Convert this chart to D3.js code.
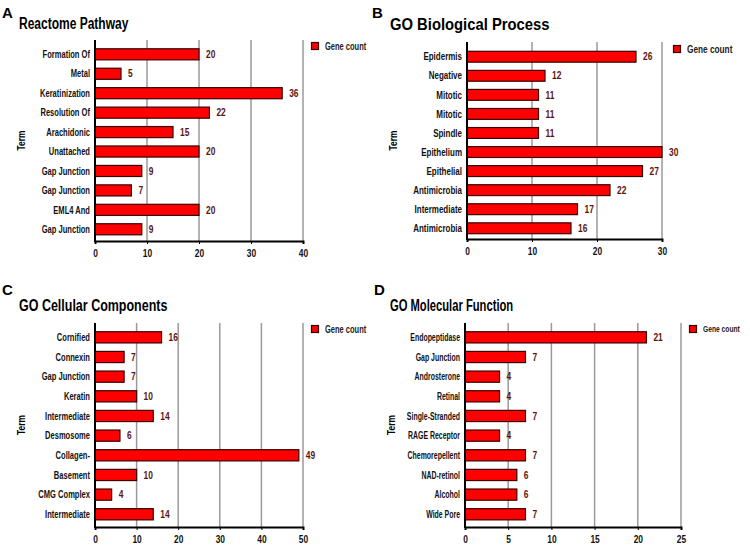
<!DOCTYPE html>
<html>
<head>
<meta charset="utf-8">
<script src="https://cdn.jsdelivr.net/npm/d3@7"></script>
<style>
  body { margin: 0; background: #fff; }
  svg { display: block; }
  .cond { font-family: "Liberation Sans", Arial, sans-serif; font-weight: bold; }
</style>
</head>
<body>
<svg id="chart"></svg>
<script>
const width = 750
const height = 557

// ---- data ----
const termsA = ['Formation Of', 'Metal', 'Keratinization', 'Resolution Of', 'Arachidonic', 'Unattached', 'Gap Junction', 'Gap Junction', 'EML4 And', 'Gap Junction']
const countsA = [20, 5, 36, 22, 15, 20, 9, 7, 20, 9]
const ticksA = [0, 10, 20, 30, 40]

const termsB = ['Epidermis', 'Negative', 'Mitotic', 'Mitotic', 'Spindle', 'Epithelium', 'Epithelial', 'Antimicrobia', 'Intermediate', 'Antimicrobia']
const countsB = [26, 12, 11, 11, 11, 30, 27, 22, 17, 16]
const ticksB = [0, 10, 20, 30]

const termsC = ['Cornified', 'Connexin', 'Gap Junction', 'Keratin', 'Intermediate', 'Desmosome', 'Collagen-', 'Basement', 'CMG Complex', 'Intermediate']
const countsC = [16, 7, 7, 10, 14, 6, 49, 10, 4, 14]
const ticksC = [0, 10, 20, 30, 40, 50]

const termsD = ['Endopeptidase', 'Gap Junction', 'Androsterone', 'Retinal', 'Single-Stranded', 'RAGE Receptor', 'Chemorepellent', 'NAD-retinol', 'Alcohol', 'Wide Pore']
const countsD = [21, 7, 4, 4, 7, 4, 7, 6, 6, 7]
const ticksD = [0, 5, 10, 15, 20, 25]

const svg = d3.select('#chart')
  .attr('width', width)
  .attr('height', height)

// the source uses a narrow bold face; squeeze the glyphs to fake it
function squeeze(sel, k) {
  sel.each(function () {
    const len = this.getComputedTextLength()
    d3.select(this)
      .attr('textLength', len * k)
      .attr('lengthAdjust', 'spacingAndGlyphs')
  })
}

// one panel: letter, title, horizontal bars, legend
function drawPanel(p) {
  const g = svg.append('g')
  const k = p.squeeze || 0.72

  const x = d3.scaleLinear()
    .domain([0, p.ticks[p.ticks.length - 1]])
    .range([p.x0, p.x1])

  const y = d3.scaleBand()
    .domain(d3.range(p.terms.length))
    .range([p.bandTop, p.bandBottom])
    .paddingInner(0.43)
    .paddingOuter(0.215)

  // letter + title
  g.append('text')
    .attr('x', p.letterX).attr('y', p.letterY)
    .style('font-family', 'Liberation Sans, Arial, sans-serif')
    .style('font-weight', 'bold')
    .style('font-size', '15px')
    .text(p.letter)

  g.append('text')
    .attr('class', 'cond')
    .attr('x', p.titleX).attr('y', p.titleY)
    .style('font-size', p.titleSize + 'px')
    .text(p.title)
    .call(squeeze, p.titleSqueeze)

  // grid
  g.selectAll('line.grid')
    .data(p.ticks.slice(1))
    .join('line')
      .attr('class', 'grid')
      .attr('x1', d => x(d)).attr('x2', d => x(d))
      .attr('y1', p.top).attr('y2', p.bottom)
      .attr('stroke', '#9a9a9a')
      .attr('stroke-width', 1.5)

  // bars
  g.selectAll('rect.bar')
    .data(p.counts)
    .join('rect')
      .attr('class', 'bar')
      .attr('x', x(0))
      .attr('y', (d, i) => y(i))
      .attr('width', d => x(d) - x(0))
      .attr('height', y.bandwidth())
      .attr('fill', '#ff0000')
      .attr('stroke', '#3a0000')
      .attr('stroke-width', 1.2)

  // value labels
  g.selectAll('text.val')
    .data(p.counts)
    .join('text')
      .attr('class', 'val cond')
      .attr('x', d => x(d) + 7)
      .attr('y', (d, i) => y(i) + y.bandwidth() / 2)
      .attr('dy', '0.35em')
      .style('font-size', '10.5px')
      .attr('fill', '#5a1414')
      .text(d => d)
      .call(squeeze, 0.8)

  // term labels
  g.selectAll('text.term')
    .data(p.terms)
    .join('text')
      .attr('class', 'term cond')
      .attr('x', x(0) - 5)
      .attr('y', (d, i) => y(i) + y.bandwidth() / 2)
      .attr('dy', '0.35em')
      .attr('text-anchor', 'end')
      .style('font-size', '10.5px')
      .attr('fill', '#111')
      .text(d => d)
      .call(squeeze, k)

  // axes
  const xAxis = d3.axisBottom(x).tickValues(p.ticks).tickSize(3).tickPadding(6)
  const ax = g.append('g')
    .attr('transform', `translate(0,${p.bottom})`)
    .call(xAxis)
  ax.select('.domain').attr('stroke', '#000').attr('stroke-width', 2)
  ax.selectAll('.tick line').attr('stroke', '#000')
  ax.selectAll('.tick text')
    .attr('class', 'cond')
    .style('font-size', '10.5px')
    .attr('fill', '#111')
    .call(squeeze, 0.8)

  g.append('line')
    .attr('x1', x(0)).attr('x2', x(0))
    .attr('y1', p.top).attr('y2', p.bottom + 1)
    .attr('stroke', '#000')
    .attr('stroke-width', 2)

  g.append('text')
    .attr('class', 'cond')
    .attr('transform', `translate(${p.termX},${(p.top + p.bottom) / 2}) rotate(-90)`)
    .attr('text-anchor', 'middle')
    .style('font-size', '10.5px')
    .text('Term')
    .call(squeeze, 0.8)

  // legend
  g.append('rect')
    .attr('x', p.legX - 3.5).attr('y', p.legY - 3.5)
    .attr('width', 7).attr('height', 7)
    .attr('fill', '#ff0000')
    .attr('stroke', '#3a0000')
    .attr('stroke-width', 1.2)
  g.append('text')
    .attr('class', 'cond')
    .attr('x', p.legX + 10).attr('y', p.legY)
    .attr('dy', '0.35em')
    .style('font-size', p.legSize + 'px')
    .attr('fill', '#222')
    .text('Gene count')
    .call(squeeze, p.legSqueeze)
}

drawPanel({
  letter: 'A', letterX: 2, letterY: 18,
  title: 'Reactome Pathway', titleX: 19, titleY: 29, titleSize: 16, titleSqueeze: 0.75,
  terms: termsA, counts: countsA, ticks: ticksA,
  x0: 95, x1: 303, top: 40, bottom: 241, bandTop: 44.6, bandBottom: 239,
  termX: 25, legX: 315, legY: 46, legSize: 10, legSqueeze: 0.75
})

drawPanel({
  letter: 'B', letterX: 372, letterY: 18,
  title: 'GO Biological Process', titleX: 390, titleY: 30, titleSize: 17, titleSqueeze: 0.87,
  terms: termsB, counts: countsB, ticks: ticksB, squeeze: 0.76,
  x0: 467, x1: 662, top: 42, bottom: 239, bandTop: 47.2, bandBottom: 237.8,
  termX: 397, legX: 677, legY: 49, legSize: 11, legSqueeze: 0.75
})

drawPanel({
  letter: 'C', letterX: 2, letterY: 295,
  title: 'GO Cellular Components', titleX: 19, titleY: 311, titleSize: 16, titleSqueeze: 0.78,
  terms: termsC, counts: countsC, ticks: ticksC,
  x0: 95, x1: 303, top: 323, bottom: 527, bandTop: 327.5, bandBottom: 524.1,
  termX: 25, legX: 315, legY: 329, legSize: 10, legSqueeze: 0.75
})

drawPanel({
  letter: 'D', letterX: 374, letterY: 295,
  title: 'GO Molecular Function', titleX: 390, titleY: 311, titleSize: 16, titleSqueeze: 0.7,
  terms: termsD, counts: countsD, ticks: ticksD, squeeze: 0.66,
  x0: 465, x1: 681, top: 323, bottom: 527, bandTop: 327.5, bandBottom: 524.1,
  termX: 395, legX: 693, legY: 329, legSize: 8.4, legSqueeze: 0.8
})
</script>
</body>
</html>
